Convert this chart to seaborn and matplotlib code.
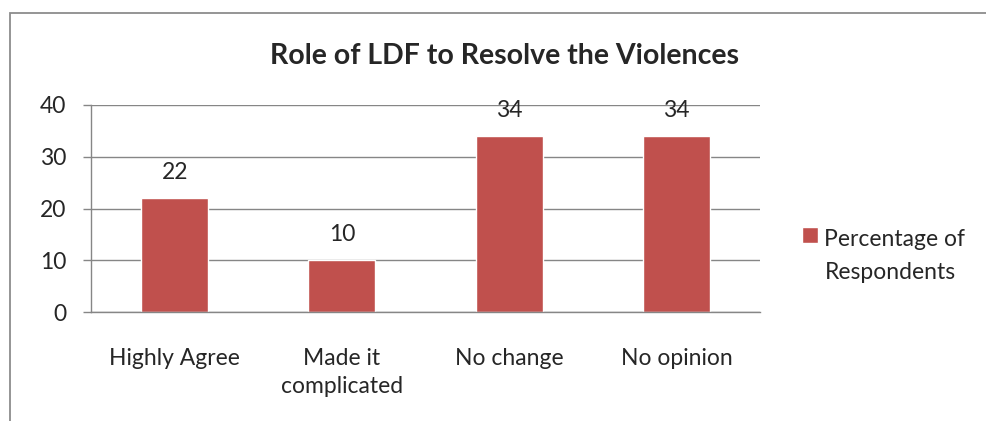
import matplotlib
matplotlib.use("Agg")
import matplotlib.pyplot as plt
from matplotlib.patches import Rectangle
import seaborn as sns
import pandas as pd

categories = ["Highly Agree", "Made it\ncomplicated", "No change", "No opinion"]
percentages = [22, 10, 34, 34]
y_ticks = [0, 10, 20, 30, 40]
series_name = "Percentage of\nRespondents"
title = "Role of LDF to Resolve the Violences"

sns.set_style("white")
plt.rcParams["font.family"] = ["Lato", "DejaVu Sans"]

bar_color = "#C0504D"
grid_color = "#868686"
fs = 16.5

fig = plt.figure(figsize=(9.86, 4.21), dpi=100)
ax = fig.add_axes([0.0923, 0.2589, 0.6785, 0.4917])

df = pd.DataFrame({"category": categories, "value": percentages})
sns.barplot(data=df, x="category", y="value", color=bar_color, width=0.4,
            saturation=1, label=series_name, ax=ax)

ax.set_ylim(0, 40)
ax.set_xlim(-0.5, len(categories) - 0.5)
ax.set_yticks(y_ticks)
ax.set_yticklabels([str(t) for t in y_ticks], fontsize=fs)
ax.set_xlabel("")
ax.set_ylabel("")

# horizontal gridlines behind the bars
ax.set_axisbelow(True)
ax.yaxis.grid(True, color=grid_color, linewidth=1)
ax.xaxis.grid(False)

# category labels centred under bars, tick marks at the category boundaries
ax.set_xticks(range(len(categories)))
ax.set_xticklabels(categories, fontsize=fs, linespacing=1.4, va="top")
ax.tick_params(axis="x", which="major", length=0, pad=26)
ax.set_xticks([i - 0.5 for i in range(len(categories) + 1)], minor=True)
ax.tick_params(axis="x", which="minor", direction="out", length=7,
               color=grid_color, width=1)
ax.tick_params(axis="y", which="major", direction="out", length=6,
               color=grid_color, width=1, pad=12, left=True)

for side in ["top", "right"]:
    ax.spines[side].set_visible(False)
for side in ["left", "bottom"]:
    ax.spines[side].set_color(grid_color)
    ax.spines[side].set_linewidth(1)

# value labels above each bar
for i, v in enumerate(percentages):
    ax.annotate(str(v), xy=(i, v), xytext=(0, 11), textcoords="offset points",
                ha="center", va="bottom", fontsize=fs)

fig.text(0.512, 0.868, title, ha="center", va="center",
         fontsize=20.5, fontweight="bold")

leg_spacing = 1.7
leg = ax.legend(loc="center left", bbox_to_anchor=(1.049, 0.272), frameon=False,
                fontsize=fs, handlelength=0.68, handleheight=0.68,
                handletextpad=0.3, borderaxespad=0)
for text in leg.get_texts():
    text.set_linespacing(leg_spacing)
# line the swatch up with the first line of the label
for h in leg.legend_handles:
    h.set_y(h.get_y() + 0.55 * fs * leg_spacing)

# chart area border
fig.patches.append(Rectangle((10 / 986, -0.1), 1.2, 1 - 13 / 421 + 0.1,
                             transform=fig.transFigure, fill=False,
                             edgecolor="#8C8C8C", linewidth=1.3))

fig.savefig("out.png", dpi=100)
